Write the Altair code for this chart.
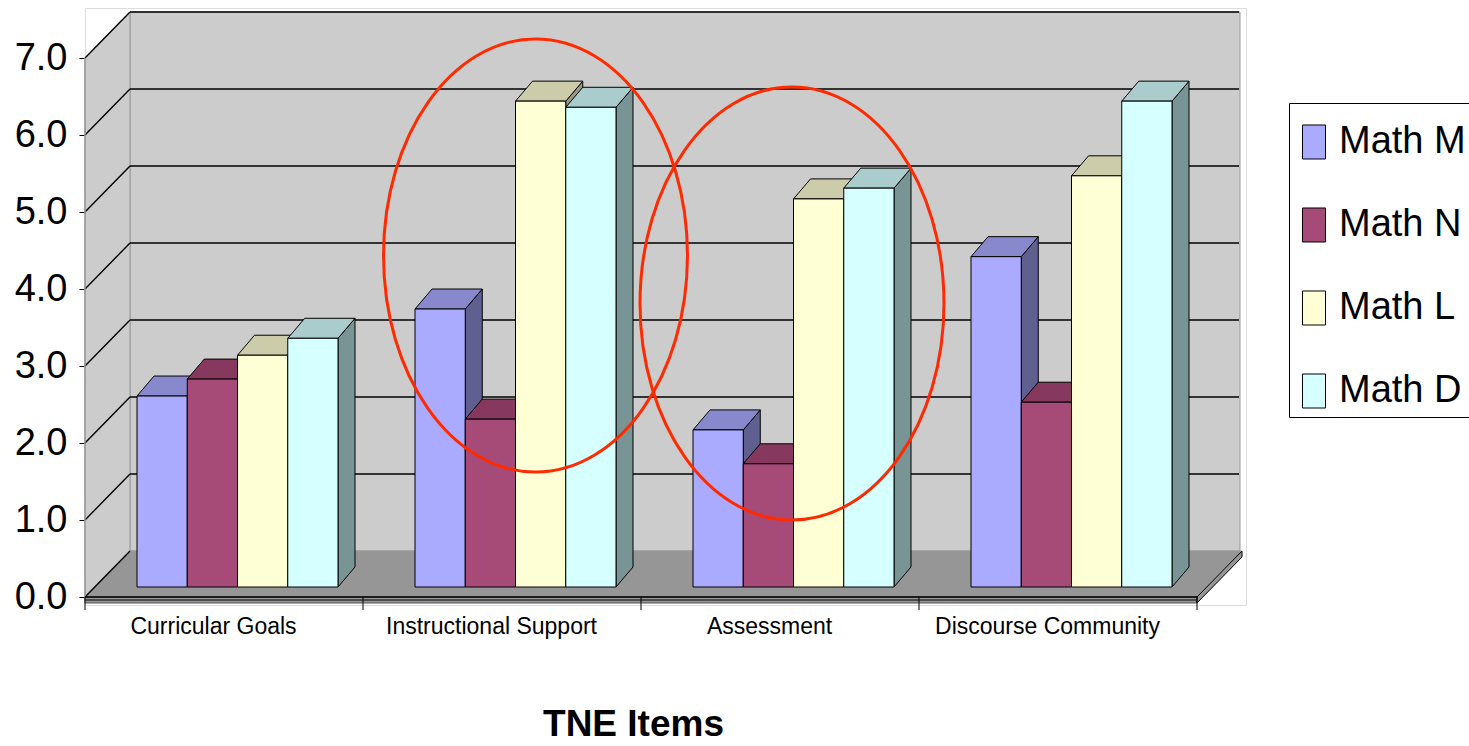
import altair as alt
import pandas as pd

# ---- data -------------------------------------------------------------
CATEGORIES = ["Curricular Goals", "Instructional Support", "Assessment", "Discourse Community"]
SERIES = ["Math M", "Math N", "Math L", "Math D"]
MATH_M = [2.48, 3.61, 2.04, 4.29]
MATH_N = [2.70, 2.18, 1.60, 2.40]
MATH_L = [3.01, 6.31, 5.04, 5.34]
MATH_D = [3.23, 6.23, 5.18, 6.31]
Y_TICKS = [0, 1, 2, 3, 4, 5, 6, 7]
X_TITLE = "TNE Items"

# ---- style ------------------------------------------------------------
FRONT_COLORS = ["#AAAAFF", "#A64A78", "#FFFFD6", "#D6FFFF"]
TOP_COLORS = ["#8888CC", "#86385E", "#CCCCAA", "#AACCCC"]
SIDE_COLORS = ["#606090", "#6E2A4E", "#9A9A80", "#789494"]
WALL = "#CCCCCC"
FLOOR = "#969696"
EDGE = "#999999"
RED = "#FF2A00"
FONT = "Liberation Sans, Arial, sans-serif"

# ---- oblique-projection geometry (pixels converted to data units) -----
CAT_PX = 278.0   # one category along the front edge
UNIT_PX = 77.0   # one value unit


def ux(px):
    return px / CAT_PX


def uy(px):
    return px / UNIT_PX


N_CAT = len(CATEGORIES)
WALL_DX, WALL_DY = ux(45), uy(46)        # depth of the floor / side wall
SLAB = uy(6)                             # floor thickness
X_MIN, X_MAX = 0.0, N_CAT + ux(49)
Y_MIN, Y_MAX = uy(-8), 7 + WALL_DY + uy(4)
PLOT_W = round((X_MAX - X_MIN) * CAT_PX)
PLOT_H = round((Y_MAX - Y_MIN) * UNIT_PX)
WALL_RIGHT = N_CAT + WALL_DX

BAR_START = ux(52)      # first bar front edge inside a category
BAR_W = ux(50.25)
BAR_BASE = uy(10)       # bars stand slightly behind the floor's front edge
BAR_DX, BAR_DY = ux(17), uy(20)

XS = alt.Scale(domain=[X_MIN, X_MAX], nice=False, zero=False)
YS = alt.Scale(domain=[Y_MIN, Y_MAX], nice=False, zero=False)

label_array = "[" + ",".join("'" + c + "'" for c in CATEGORIES) + "]"
X_AXIS = alt.Axis(
    values=[i + 0.5 for i in range(N_CAT)],
    labelExpr=label_array + "[floor(datum.value)]",
    labelOffset=-11, labelPadding=10, labelFont=FONT, labelFontSize=23,
    labelColor="black", labelOverlap=False, labelFlush=False, labelLimit=0,
    ticks=False, domain=False, grid=False,
    title=X_TITLE, titleFont=FONT, titleFontSize=37, titleFontWeight="bold",
    titleColor="black", titleX=548, titleY=130, titleBaseline="alphabetic",
    titleAlign="center",
)
Y_AXIS = alt.Axis(
    values=Y_TICKS, format=".1f", labelFont=FONT, labelFontSize=38,
    labelColor="black", labelPadding=12, tickSize=6, tickColor="black",
    domain=False, grid=False, title=None, labelOverlap=False,
)


def X(f):
    return alt.X(f, type="quantitative", scale=XS, axis=X_AXIS)


def Y(f):
    return alt.Y(f, type="quantitative", scale=YS, axis=Y_AXIS)


# ---- walls and floor --------------------------------------------------
back_wall = alt.Chart(pd.DataFrame([{
    "x": WALL_DX, "x2": WALL_RIGHT - ux(2), "y": WALL_DY, "y2": 7 + WALL_DY}])
).mark_rect(fill=WALL, stroke=EDGE, strokeWidth=1, clip=False).encode(
    x=X("x"), x2="x2", y=Y("y"), y2="y2")

left_wall = alt.Chart(pd.DataFrame([
    {"x": 0.0, "y": 0.0, "y2": 7.0},
    {"x": WALL_DX, "y": WALL_DY, "y2": 7 + WALL_DY},
])).mark_area(orient="vertical", fill=WALL, stroke=EDGE, strokeWidth=1,
              clip=False).encode(x=X("x"), y=Y("y"), y2="y2")

floor = alt.Chart(pd.DataFrame([
    {"y": 0.0, "x": 0.0, "x2": float(N_CAT)},
    {"y": WALL_DY, "x": WALL_DX, "x2": WALL_RIGHT},
])).mark_area(orient="horizontal", fill=FLOOR, stroke=EDGE, strokeWidth=1,
              clip=False).encode(y=Y("y"), x=X("x"), x2="x2")

slab_front = alt.Chart(pd.DataFrame([{
    "x": 0.0, "x2": float(N_CAT), "y": -SLAB, "y2": 0.0}])
).mark_rect(fill=FLOOR, stroke="#555555", strokeWidth=1, clip=False).encode(
    x=X("x"), x2="x2", y=Y("y"), y2="y2")

slab_side = alt.Chart(pd.DataFrame([
    {"x": float(N_CAT), "y": -SLAB, "y2": 0.0},
    {"x": WALL_RIGHT, "y": WALL_DY - SLAB, "y2": WALL_DY},
])).mark_area(orient="vertical", fill=FLOOR, stroke="black", strokeWidth=1,
              clip=False).encode(x=X("x"), y=Y("y"), y2="y2")

# gridlines: across the back wall and diagonally over the side wall
grid_rows = []
for v in Y_TICKS:
    grid_rows.append({"x": 0.0, "y": float(v), "x2": WALL_DX, "y2": v + WALL_DY})
    if v > 0:
        grid_rows.append({"x": WALL_DX, "y": v + WALL_DY,
                          "x2": WALL_RIGHT - ux(3), "y2": v + WALL_DY})
grid = alt.Chart(pd.DataFrame(grid_rows)).mark_rule(
    color="black", strokeWidth=1.4, clip=False).encode(
    x=X("x"), y=Y("y"), x2="x2", y2="y2")

edge_rows = [
    {"x": 0.0, "y": -SLAB, "x2": 0.0, "y2": 7.0, "c": "gray"},
    {"x": 0.0, "y": 0.0, "x2": float(N_CAT), "y2": 0.0, "c": "black"},
    {"x": 0.0, "y": -uy(3), "x2": float(N_CAT), "y2": -uy(3), "c": "dark"},
]
edges = alt.Chart(pd.DataFrame(edge_rows)).mark_rule(strokeWidth=1.4, clip=False).encode(
    x=X("x"), y=Y("y"), x2="x2", y2="y2",
    color=alt.Color("c:N", scale=alt.Scale(domain=["gray", "black", "dark"],
                                           range=[EDGE, "black", "#333333"]),
                    legend=None))

# category boundary ticks below the floor
tick_df = pd.DataFrame({"x": [float(i) for i in range(N_CAT + 1)]})
tick_df["y"] = -uy(13)
tick_df["y2"] = 0.0
x_ticks = alt.Chart(tick_df).mark_rule(color="black", strokeWidth=1, clip=False).encode(
    x=X("x"), y=Y("y"), y2="y2")

# ---- bars -------------------------------------------------------------
values = {"Math M": MATH_M, "Math N": MATH_N, "Math L": MATH_L, "Math D": MATH_D}
fronts, tops, sides = [], [], []
for i, cat in enumerate(CATEGORIES):
    for j, s in enumerate(SERIES):
        v = values[s][i]
        bid = f"{i}-{j}"
        x0 = i + BAR_START + j * BAR_W
        x1 = x0 + BAR_W
        y0, y1 = BAR_BASE, BAR_BASE + v
        fronts.append({"series": s, "category": cat, "value": v,
                       "x": x0, "x2": x1, "y": y0, "y2": y1})
        tops.append({"id": bid, "series": s, "y": y1, "x": x0, "x2": x1})
        tops.append({"id": bid, "series": s, "y": y1 + BAR_DY,
                     "x": x0 + BAR_DX, "x2": x1 + BAR_DX})
        sides.append({"id": bid, "series": s, "x": x1, "y": y0, "y2": y1})
        sides.append({"id": bid, "series": s, "x": x1 + BAR_DX,
                      "y": y0 + BAR_DY, "y2": y1 + BAR_DY})

bar_sides = alt.Chart(pd.DataFrame(sides)).mark_area(
    orient="vertical", stroke="black", strokeWidth=1, clip=False).encode(
    x=X("x"), y=Y("y"), y2="y2", detail="id:N",
    fill=alt.Fill("series:N", scale=alt.Scale(domain=SERIES, range=SIDE_COLORS),
                  legend=None))

bar_tops = alt.Chart(pd.DataFrame(tops)).mark_area(
    orient="horizontal", stroke="black", strokeWidth=1, clip=False).encode(
    y=Y("y"), x=X("x"), x2="x2", detail="id:N",
    fill=alt.Fill("series:N", scale=alt.Scale(domain=SERIES, range=TOP_COLORS),
                  legend=None))

# tall legend swatch (23 x 34 px with a symbol size of 26^2)
SWATCH = "M-0.885,-1.308H0.885V1.308H-0.885Z"
bar_fronts = alt.Chart(pd.DataFrame(fronts)).mark_rect(
    stroke="black", strokeWidth=1, clip=False).encode(
    x=X("x"), x2="x2", y=Y("y"), y2="y2",
    fill=alt.Fill("series:N", scale=alt.Scale(domain=SERIES, range=FRONT_COLORS),
                  legend=alt.Legend(
                      title=" ", titleFontSize=4, titlePadding=10,
                      orient="none", legendX=1204, legendY=95,
                      padding=6, strokeColor="black", fillColor="white",
                      labelFont=FONT, labelFontSize=38, labelColor="black",
                      labelLimit=400,
                      symbolType=SWATCH, symbolSize=676,
                      symbolStrokeColor="black", symbolStrokeWidth=1,
                      labelOffset=6, rowPadding=43)))

# ---- highlight ellipses -----------------------------------------------
ELLIPSE_X = [ux(450.5), ux(707)]
ELLIPSE_Y = [uy(341.5), uy(293.5)]
ELLIPSE = "M-0.702,0A0.702,1,0,1,0,0.702,0A0.702,1,0,1,0,-0.702,0Z"
ellipses = alt.Chart(pd.DataFrame({"x": ELLIPSE_X, "y": ELLIPSE_Y})).mark_point(
    shape=ELLIPSE, size=433 ** 2, filled=False, stroke=RED, strokeWidth=3,
    opacity=1, clip=False).encode(x=X("x"), y=Y("y"))

chart = alt.layer(
    back_wall, left_wall, floor, slab_front, slab_side, grid, edges, x_ticks,
    bar_sides, bar_tops, bar_fronts, ellipses,
).resolve_scale(fill="independent", color="independent").properties(
    width=PLOT_W, height=PLOT_H,
    autosize=alt.AutoSizeParams(type="none"),
    padding={"left": 85, "top": 8, "right": 1469 - 85 - PLOT_W,
             "bottom": 745 - 8 - PLOT_H},
).configure_view(stroke=None).configure(background="white")

chart.save("out.html", embed_options={"renderer": "svg", "actions": False})
